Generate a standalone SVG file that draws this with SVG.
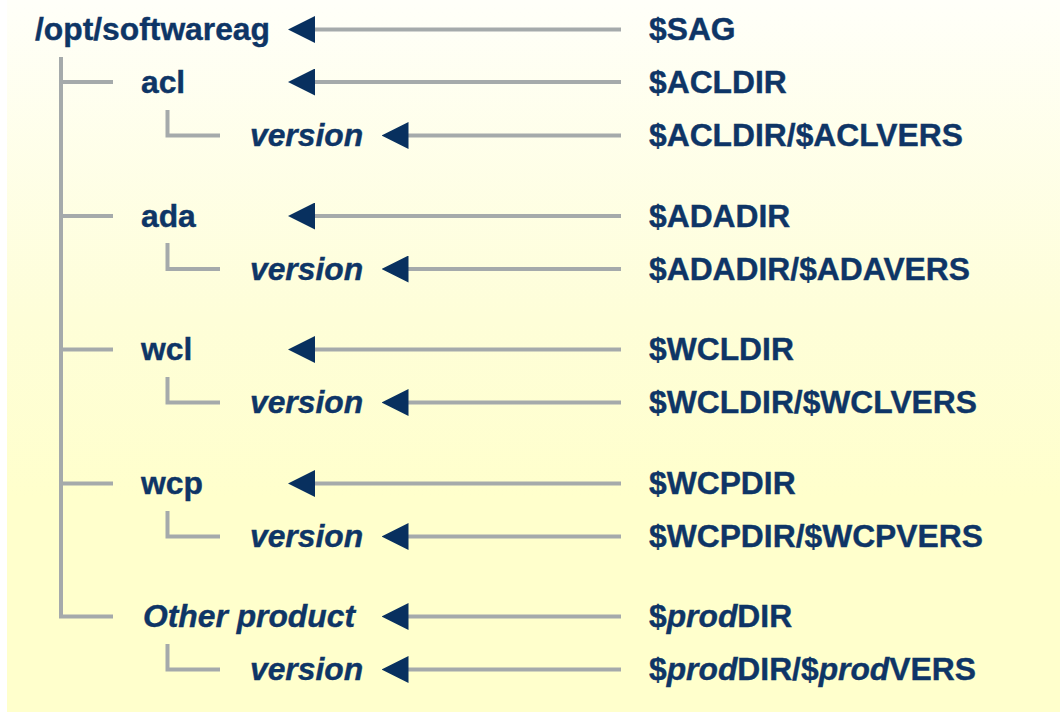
<svg xmlns="http://www.w3.org/2000/svg" width="1060" height="717" viewBox="0 0 1060 717">
  <defs>
    <linearGradient id="bg" x1="0" y1="0" x2="0" y2="1">
      <stop offset="0" stop-color="#fffff9"/>
      <stop offset="0.45" stop-color="#fefed8"/>
      <stop offset="0.7" stop-color="#ffffcc"/>
      <stop offset="1" stop-color="#ffffcc"/>
    </linearGradient>
    <marker id="head" viewBox="0 0 27 27" refX="7" refY="13.5" markerWidth="27" markerHeight="27" markerUnits="userSpaceOnUse" orient="auto">
      <path d="M0,0 L27,13.5 L0,27 z" fill="#08305f"/>
    </marker>
    <style>
      .t { font-family: "Liberation Sans", Arial, sans-serif; font-weight: bold; font-size: 31.8px; fill: #0e3566; stroke: #0e3566; stroke-width: 0.4; }
      .i { font-style: italic; }
      .tree { fill: none; stroke: #a5aaab; stroke-width: 4; }
      .arr { stroke: #a5aaab; stroke-width: 4; marker-end: url(#head); }
    </style>
  </defs>
  <rect x="0" y="0" width="1060" height="717" fill="#ffffff"/>
  <rect x="7" y="0" width="1053" height="712" fill="url(#bg)"/>

  <g id="tree">
    <path class="tree" d="M61,57 V616.5 H113"/>
    <path class="tree" d="M61,82 H113 M61,216 H113 M61,349.5 H113 M61,483.5 H113"/>
    <path class="tree" d="M167.5,110 V135.5 H220"/>
    <path class="tree" d="M167.5,243 V269 H220"/>
    <path class="tree" d="M167.5,377 V402.5 H220"/>
    <path class="tree" d="M167.5,511 V536.5 H220"/>
    <path class="tree" d="M167.5,644 V669.5 H220"/>
  </g>

  <g id="connectors">
    <line class="arr" x1="621" y1="29.5" x2="308" y2="29.5"/>
    <line class="arr" x1="621" y1="82" x2="308" y2="82"/>
    <line class="arr" x1="621" y1="135.5" x2="401.5" y2="135.5"/>
    <line class="arr" x1="621" y1="216" x2="308" y2="216"/>
    <line class="arr" x1="621" y1="269" x2="401.5" y2="269"/>
    <line class="arr" x1="621" y1="349.5" x2="308" y2="349.5"/>
    <line class="arr" x1="621" y1="402.5" x2="401.5" y2="402.5"/>
    <line class="arr" x1="621" y1="483.5" x2="308" y2="483.5"/>
    <line class="arr" x1="621" y1="536.5" x2="401.5" y2="536.5"/>
    <line class="arr" x1="621" y1="616.5" x2="401.5" y2="616.5"/>
    <line class="arr" x1="621" y1="669.5" x2="401.5" y2="669.5"/>
  </g>

  <g id="node-root"><text class="t" x="35" y="40">/opt/softwareag</text></g>
  <g id="node-acl"><text class="t" x="141" y="92.5">acl</text></g>
  <g id="node-acl-version"><text class="t i" x="250" y="146">version</text></g>
  <g id="node-ada"><text class="t" x="141" y="226.5">ada</text></g>
  <g id="node-ada-version"><text class="t i" x="250" y="279.5">version</text></g>
  <g id="node-wcl"><text class="t" x="141" y="360">wcl</text></g>
  <g id="node-wcl-version"><text class="t i" x="250" y="413">version</text></g>
  <g id="node-wcp"><text class="t" x="141" y="494">wcp</text></g>
  <g id="node-wcp-version"><text class="t i" x="250" y="547">version</text></g>
  <g id="node-other"><text class="t i" x="143" y="627">Other product</text></g>
  <g id="node-other-version"><text class="t i" x="250" y="680">version</text></g>

  <g id="var-sag"><text class="t" x="649" y="40">$SAG</text></g>
  <g id="var-acldir"><text class="t" x="649" y="92.5">$ACLDIR</text></g>
  <g id="var-aclvers"><text class="t" x="649" y="146">$ACLDIR/$ACLVERS</text></g>
  <g id="var-adadir"><text class="t" x="649" y="226.5">$ADADIR</text></g>
  <g id="var-adavers"><text class="t" x="649" y="279.5">$ADADIR/$ADAVERS</text></g>
  <g id="var-wcldir"><text class="t" x="649" y="360">$WCLDIR</text></g>
  <g id="var-wclvers"><text class="t" x="649" y="413">$WCLDIR/$WCLVERS</text></g>
  <g id="var-wcpdir"><text class="t" x="649" y="494">$WCPDIR</text></g>
  <g id="var-wcpvers"><text class="t" x="649" y="547">$WCPDIR/$WCPVERS</text></g>
  <g id="var-proddir"><text class="t" x="649" y="627">$<tspan class="i">prod</tspan>DIR</text></g>
  <g id="var-prodvers"><text class="t" x="649" y="680">$<tspan class="i">prod</tspan>DIR/$<tspan class="i">prod</tspan>VERS</text></g>
</svg>
